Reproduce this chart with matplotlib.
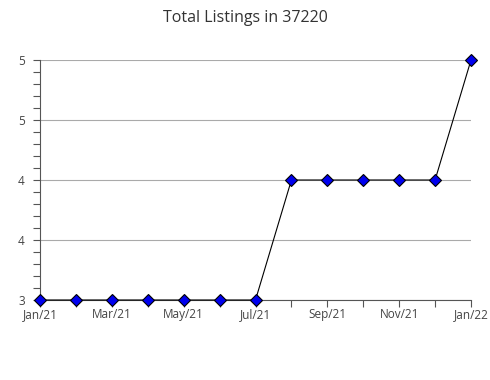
import matplotlib.pyplot as plt
from matplotlib.ticker import MultipleLocator

months = ['Jan/21', 'Feb/21', 'Mar/21', 'Apr/21', 'May/21', 'Jun/21', 'Jul/21',
          'Aug/21', 'Sep/21', 'Oct/21', 'Nov/21', 'Dec/21', 'Jan/22']
listings = [3, 3, 3, 3, 3, 3, 3, 4, 4, 4, 4, 4, 5]
y_ticks = [3, 3.5, 4, 4.5, 5]
y_labels = ['3', '4', '4', '5', '5']

plt.rcParams['font.family'] = ['Open Sans', 'DejaVu Sans']

fig = plt.figure(figsize=(4.9, 3.8), dpi=100)
ax = fig.add_axes([40 / 490, 80 / 380, 431 / 490, 240 / 380])

x = list(range(len(months)))
ax.plot(x, listings, color='black', lw=0.8, zorder=3, clip_on=False,
        marker='D', markersize=6, markerfacecolor='#0000ee',
        markeredgecolor='black', markeredgewidth=0.8)

ax.set_xlim(0, len(months) - 1)
ax.set_ylim(3, 5)
ax.set_xticks(x)
ax.set_xticklabels([m if i % 2 == 0 else '' for i, m in enumerate(months)])
ax.set_yticks(y_ticks)
ax.set_yticklabels(y_labels)
ax.yaxis.set_minor_locator(MultipleLocator(0.1))

ax.grid(axis='y', color='#aaaaaa', lw=0.8)
ax.set_axisbelow(True)
for s in ['top', 'right']:
    ax.spines[s].set_visible(False)
for s in ['left', 'bottom']:
    ax.spines[s].set_color('#555555')
ax.tick_params(axis='both', colors='#555555', labelcolor='#444444', labelsize=8.5, length=5, width=0.8)
ax.tick_params(axis='y', which='minor', colors='#555555', length=5, width=0.8)
ax.tick_params(axis='x', pad=1)
ax.tick_params(axis='y', pad=6)

fig.suptitle('Total Listings in 37220', x=0.5, y=0.975, fontsize=11.5, color='#333333')

fig.savefig('out.png')
